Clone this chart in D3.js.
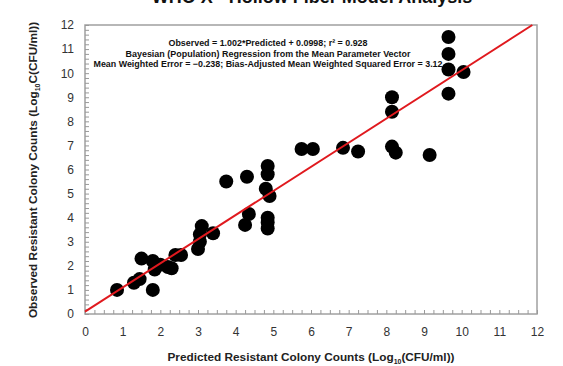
<!DOCTYPE html>
<html>
<head>
<meta charset="utf-8">
<script src="https://cdn.jsdelivr.net/npm/d3@7"></script>
<style>
  html, body { margin: 0; padding: 0; background: #fff; }
  svg { display: block; }
  text { font-family: Arial, "Liberation Sans", sans-serif; }
</style>
</head>
<body>
<svg id="chart" width="563" height="366"></svg>
<script>
// Predicted vs observed resistant colony counts (log10 CFU/ml)
const predicted = [0.85, 1.3, 1.45, 1.5, 1.8, 1.8, 1.85, 2.0, 2.2, 2.3, 2.4, 2.55,
  3.0, 3.05, 3.05, 3.1, 3.4, 3.75, 4.3, 4.25, 4.35, 4.85, 4.85, 4.8, 4.9, 4.85, 4.85, 4.85,
  5.75, 6.05, 6.85, 7.25, 8.15, 8.15, 8.15, 8.25, 9.15, 9.65, 9.65, 9.65, 9.65, 10.05];
const observed = [1.0, 1.3, 1.45, 2.3, 1.0, 2.2, 1.85, 2.05, 1.95, 1.9, 2.45, 2.45,
  2.7, 3.0, 3.3, 3.65, 3.35, 5.5, 5.7, 3.7, 4.15, 6.15, 5.8, 5.2, 4.9, 4.0, 3.8, 3.55,
  6.85, 6.85, 6.9, 6.75, 9.0, 8.4, 6.95, 6.7, 6.6, 11.5, 10.8, 10.15, 9.15, 10.05];

// Regression fit: observed = slope * predicted + intercept
const slope = 1.002;
const intercept = 0.0998;

const xTicks = d3.range(0, 13, 1);
const yTicks = d3.range(0, 13, 1);
const xMinorTicks = d3.range(0, 12.001, 0.25);
const yMinorTicks = d3.range(0, 12.001, 0.2);

const statLines = [
  "Observed = 1.002*Predicted + 0.0998; r² = 0.928",
  "Bayesian (Population) Regression from the Mean Parameter Vector",
  "Mean Weighted Error = −0.238; Bias-Adjusted Mean Weighted Squared Error = 3.12"
];

const svg = d3.select("#chart");
const plotLeft = 85, plotRight = 537, plotTop = 25, plotBottom = 314;

const x = d3.scaleLinear().domain([0, 12]).range([plotLeft, plotRight]);
const y = d3.scaleLinear().domain([0, 12]).range([plotBottom, plotTop]);

// Title (runs off the top edge)
svg.append("text")
  .attr("x", 312).attr("y", 3)
  .attr("text-anchor", "middle")
  .attr("font-size", 18).attr("font-weight", "bold")
  .attr("fill", "#111")
  .text("WHO X - Hollow Fiber Model Analysis");

// Plot frame
svg.append("rect")
  .attr("x", plotLeft).attr("y", plotTop)
  .attr("width", plotRight - plotLeft).attr("height", plotBottom - plotTop)
  .attr("fill", "#fff").attr("stroke", "#a0a0a0").attr("stroke-width", 1.5);

// Inward minor ticks
const xAxis = svg.append("g").attr("transform", `translate(0,${plotBottom})`);
xAxis.call(d3.axisBottom(x).tickValues(xMinorTicks).tickSize(-4).tickFormat(""));
xAxis.call(g => g.selectAll(".tick line").attr("stroke", "#999"));
xAxis.call(g => g.select(".domain").remove());

const yAxis = svg.append("g").attr("transform", `translate(${plotLeft},0)`);
yAxis.call(d3.axisLeft(y).tickValues(yMinorTicks).tickSize(-4).tickFormat(""));
yAxis.call(g => g.selectAll(".tick line").attr("stroke", "#999"));
yAxis.call(g => g.select(".domain").remove());

// Tick labels
const xLab = svg.append("g").attr("transform", `translate(0,${plotBottom})`)
  .call(d3.axisBottom(x).tickValues(xTicks).tickSize(0).tickPadding(13).tickFormat(d3.format("d")));
xLab.select(".domain").remove();
xLab.selectAll("text").attr("font-size", 12).attr("fill", "#333").attr("font-family", "Arial, 'Liberation Sans', sans-serif");

const yLab = svg.append("g").attr("transform", `translate(${plotLeft},0)`)
  .call(d3.axisLeft(y).tickValues(yTicks).tickSize(0).tickPadding(11).tickFormat(d3.format("d")));
yLab.select(".domain").remove();
yLab.selectAll("text").attr("font-size", 12).attr("fill", "#333").attr("font-family", "Arial, 'Liberation Sans', sans-serif");

// Axis titles
const xTitle = svg.append("text")
  .attr("x", 311).attr("y", 361)
  .attr("text-anchor", "middle")
  .attr("font-size", 11.8).attr("font-weight", "bold").attr("fill", "#222");
xTitle.append("tspan").text("Predicted Resistant Colony Counts (Log");
xTitle.append("tspan").attr("font-size", 7).attr("dy", 3).text("10");
xTitle.append("tspan").attr("dy", -3).text("(CFU/ml))");

const yTitle = svg.append("text")
  .attr("transform", "translate(37,170) rotate(-90)")
  .attr("text-anchor", "middle")
  .attr("font-size", 11.8).attr("font-weight", "bold").attr("fill", "#222");
yTitle.append("tspan").text("Observed Resistant Colony Counts (Log");
yTitle.append("tspan").attr("font-size", 7).attr("dy", 3).text("10");
yTitle.append("tspan").attr("dy", -3).text("C(CFU/ml))");

// Data points
const plot = svg.append("g");
plot.selectAll("circle")
  .data(predicted.map((p, i) => [p, observed[i]]))
  .join("circle")
  .attr("cx", d => x(d[0]))
  .attr("cy", d => y(d[1]))
  .attr("r", 7)
  .attr("fill", "#000");

// Regression line, clipped to the plot frame
const xEnd = Math.min(12, (12 - intercept) / slope);
plot.append("line")
  .attr("x1", x(0)).attr("y1", y(intercept))
  .attr("x2", x(xEnd)).attr("y2", y(slope * xEnd + intercept))
  .attr("stroke", "#e0191e").attr("stroke-width", 2);

// Fit statistics
const statWidths = [199, 285, 349];
svg.append("g").selectAll("text")
  .data(statLines)
  .join("text")
  .attr("x", 268)
  .attr("y", (d, i) => 46 + i * 10.5)
  .attr("text-anchor", "middle")
  .attr("font-size", 9).attr("font-weight", "bold").attr("fill", "#111")
  .attr("textLength", (d, i) => statWidths[i])
  .attr("lengthAdjust", "spacingAndGlyphs")
  .text(d => d);
</script>
</body>
</html>
